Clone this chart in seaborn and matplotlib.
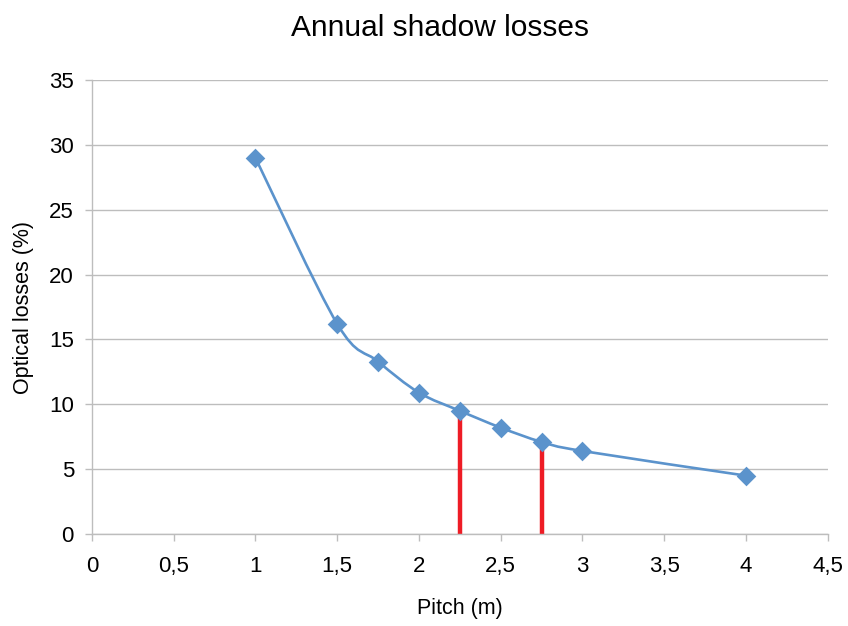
import numpy as np
import pandas as pd
import matplotlib
matplotlib.use("Agg")
import matplotlib.pyplot as plt
from matplotlib.path import Path
from matplotlib.patches import PathPatch
from matplotlib.ticker import FuncFormatter
import seaborn as sns

# data
pitch = [1.0, 1.5, 1.75, 2.0, 2.25, 2.5, 2.75, 3.0, 4.0]
losses = [29.0, 16.2, 13.3, 10.9, 9.5, 8.2, 7.1, 6.4, 4.5]
marked_pitch = [2.25, 2.75]
marked_losses = [9.5, 7.1]

blue = "#5B93CC"
red = "#EE1C25"
grid_gray = "#BDBDBD"

sns.set_theme(style="white")
plt.rcParams['font.family'] = ['Liberation Sans', 'DejaVu Sans']

fig = plt.figure(figsize=(8.48, 6.26), dpi=100)
ax = fig.add_axes([0.1085, 0.147, 0.8675, 0.725])

ax.set_xlim(0, 4.5)
ax.set_ylim(0, 35)
ax.set_xticks(np.arange(0, 4.51, 0.5))
ax.set_yticks(np.arange(0, 36, 5))

# smoothed line (Excel-style Bezier through the points, built in display space)
df = pd.DataFrame({"pitch": pitch, "losses": losses})
pts = ax.transData.transform(df[["pitch", "losses"]].to_numpy())
verts = [pts[0]]
codes = [Path.MOVETO]
n = len(pts)
for i in range(n - 1):
    p0 = pts[i - 1] if i > 0 else pts[i]
    p1, p2 = pts[i], pts[i + 1]
    p3 = pts[i + 2] if i + 2 < n else pts[i + 1]
    c1 = p1 + (p2 - p0) / 6.0
    c2 = p2 - (p3 - p1) / 6.0
    verts += [c1, c2, p2]
    codes += [Path.CURVE4] * 3
verts = ax.transData.inverted().transform(np.array(verts))
ax.add_patch(PathPatch(Path(verts, codes), facecolor="none", edgecolor=blue,
                       lw=1.9, zorder=3))

# red markers for chosen pitches
ax.vlines(marked_pitch, 0, marked_losses, colors=red, lw=3.2, zorder=2)

sns.scatterplot(data=df, x="pitch", y="losses", marker="D", s=100, color=blue,
                edgecolor=blue, linewidth=0, ax=ax, zorder=4)

ax.yaxis.grid(True, color=grid_gray, lw=1.0)
ax.set_axisbelow(True)
for s in ["top", "right"]:
    ax.spines[s].set_visible(False)
for s in ["left", "bottom"]:
    ax.spines[s].set_color(grid_gray)
    ax.spines[s].set_linewidth(1.0)

comma = FuncFormatter(lambda v, p: ("%g" % v).replace(".", ","))
ax.xaxis.set_major_formatter(comma)
ax.tick_params(axis="both", which="major", direction="out", length=5, width=1,
               color=grid_gray, labelsize=16, labelcolor="black")
ax.tick_params(axis="x", pad=11)
ax.tick_params(axis="y", pad=8)
ax.xaxis.set_ticks_position("bottom")
ax.yaxis.set_ticks_position("left")

ax.set_xlabel("Pitch (m)", fontsize=15.5, labelpad=15, color="black")
ax.set_ylabel("Optical losses (%)", fontsize=15.5, labelpad=11, color="black")
fig.suptitle("Annual shadow losses", fontsize=21.5, x=0.519, y=0.978, color="black")

fig.savefig("out.png", dpi=100)
